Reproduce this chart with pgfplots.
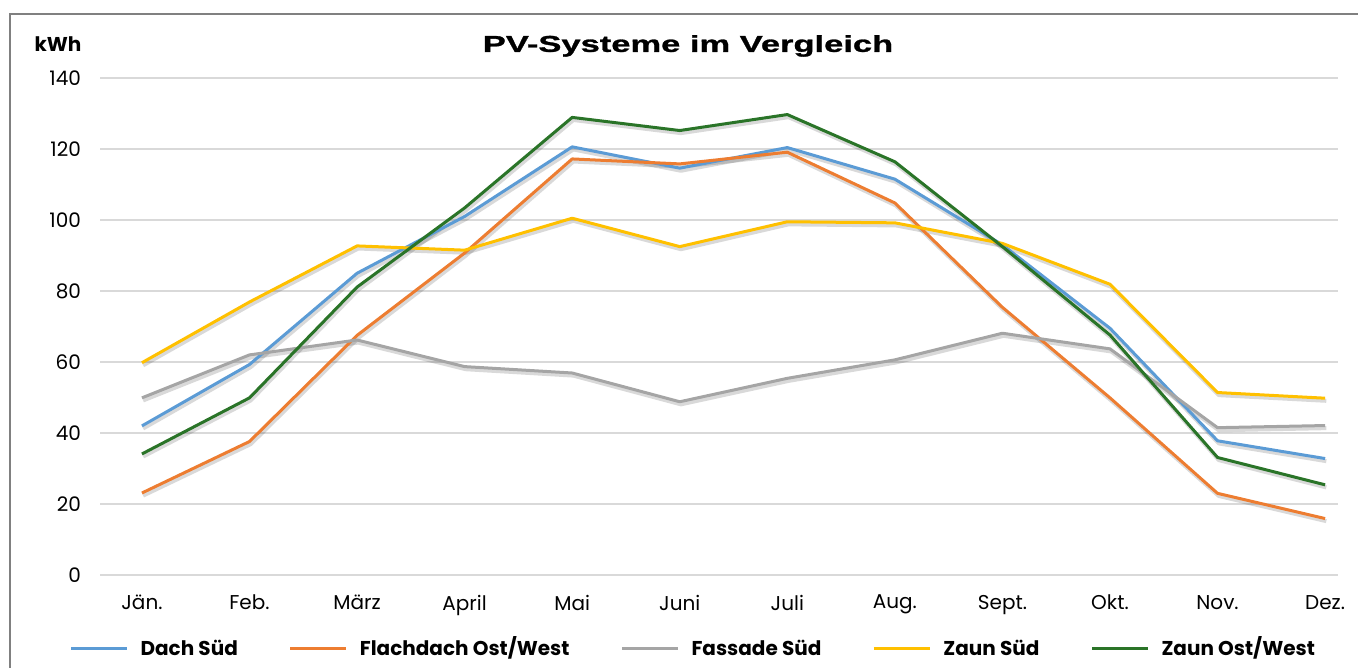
\documentclass[border=0pt]{standalone}
\usepackage{fontspec}
\setmainfont{Poppins}
\newfontfamily\titlefont[FakeStretch=1.5,FakeBold=1.2]{Liberation Sans}
\usepackage{pgfplots}
\usepackage{pgfplotstable}
\pgfplotsset{compat=1.18}
\definecolor{cblue}{HTML}{5B9BD5}
\definecolor{corange}{HTML}{ED7D31}
\definecolor{cgray}{HTML}{A5A5A5}
\definecolor{cyellow}{HTML}{FFC000}
\definecolor{cgreen}{HTML}{2A7428}
\definecolor{gridc}{HTML}{D9D9D9}
\pgfplotstableread{
m dach flach fassade zsued zow
0  42.0 23.1 49.9 59.8 34.1
1  59.3 37.6 62.0 76.9 49.9
2  85.0 67.5 66.2 92.7 81.1
3  101.0 90.7 58.7 91.5 103.4
4  120.6 117.2 56.9 100.5 128.9
5  114.6 115.8 48.8 92.5 125.2
6  120.4 119.1 55.4 99.5 129.7
7  111.5 104.8 60.6 99.2 116.4
8  93.0 75.4 68.1 93.4 92.5
9  69.5 49.9 63.7 81.9 67.6
10 37.8 23.0 41.5 51.4 33.1
11 32.8 15.9 42.1 49.8 25.4
}\pvdata
\begin{document}
\begin{tikzpicture}
\useasboundingbox (0,0) rectangle (679pt,334pt);
\begin{scope}
\clip (0,0) rectangle (679pt,334pt);
\draw[color=black!50, line width=0.8pt] (5pt,-20pt) rectangle (700pt,327pt);
\end{scope}
\node[font=\bfseries\fontsize{10}{12}\selectfont] at (29pt,312pt) {kWh};
\node[font=\titlefont\bfseries\fontsize{11.5}{13}\selectfont] at (344pt,311pt) {PV-Systeme im Vergleich};
\begin{axis}[
  at={(50pt,46.5pt)}, anchor=south west,
  scale only axis, width=619pt, height=248.5pt,
  xmin=-0.39, xmax=11.12, ymin=0, ymax=140,
  ytick={0,20,...,140},
  xtick={0,...,11},
  xticklabels={Jän.,Feb.,März,April,Mai,Juni,Juli,Aug.,Sept.,Okt.,Nov.,Dez.},
  axis line style={draw=none},
  major tick style={draw=none},
  ymajorgrids, grid style={color=gridc, line width=0.7pt},
  /pgf/number format/assume math mode=true,
  tick label style={font=\fontsize{10}{12}\selectfont},
  yticklabel style={xshift=-6pt},
  xticklabel style={yshift=-6.5pt},
  legend columns=5,
  legend style={at={(axis description cs:0.48,-0.147)}, anchor=center, draw=none, fill=none,
    font=\bfseries\fontsize{10}{12}\selectfont,
    nodes={text height=1.6ex, text depth=0.3ex},
    /tikz/every odd column/.append style={column sep=4pt},
    /tikz/every even column/.append style={column sep=23.5pt}},
  legend image code/.code={\draw[#1] (0pt,0pt) -- (28pt,0pt);},
  every axis plot/.append style={line width=1.5pt, line join=round},
]
\foreach \c in {dach,flach,fassade,zsued,zow}{
  \addplot[forget plot, color=black, opacity=0.15, line width=2pt, transform canvas={xshift=0.6pt,yshift=-1.3pt}] table[x=m,y=\c] {\pvdata};
}
\addplot[color=cblue] table[x=m,y=dach] {\pvdata};
\addlegendentry{Dach Süd}
\addplot[color=corange] table[x=m,y=flach] {\pvdata};
\addlegendentry{Flachdach Ost/West}
\addplot[color=cgray] table[x=m,y=fassade] {\pvdata};
\addlegendentry{Fassade Süd}
\addplot[color=cyellow] table[x=m,y=zsued] {\pvdata};
\addlegendentry{Zaun Süd}
\addplot[color=cgreen] table[x=m,y=zow] {\pvdata};
\addlegendentry{Zaun Ost/West}
\end{axis}
\end{tikzpicture}
\end{document}
